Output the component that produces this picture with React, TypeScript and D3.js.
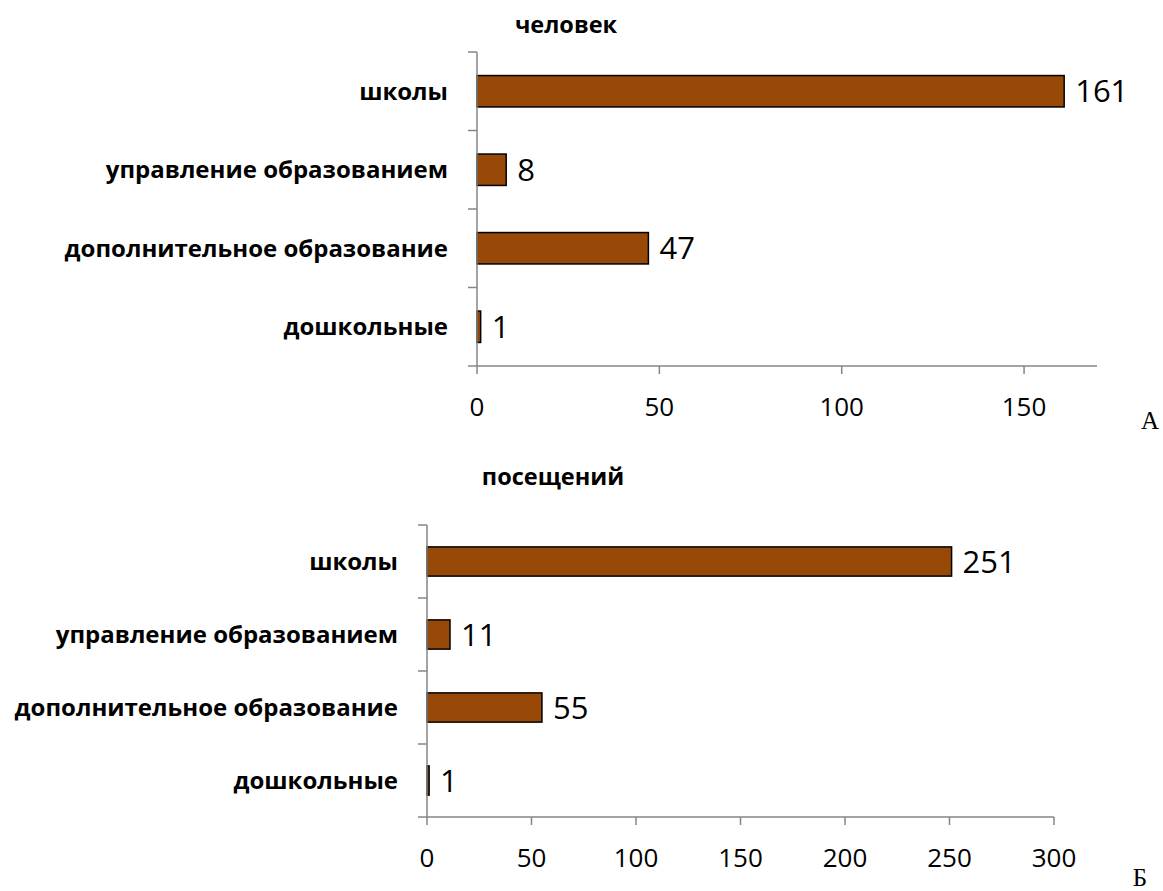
import React from "react";
import * as d3 from "d3";

const categories = ["школы", "управление образованием", "дополнительное образование", "дошкольные"];
const peopleValues = [161, 8, 47, 1];
const visitValues = [251, 11, 55, 1];
const peopleTicks = [0, 50, 100, 150];
const visitTicks = [0, 50, 100, 150, 200, 250, 300];

const BAR = "#984807";
const AXIS = "#868686";
const FONT = "'Open Sans', sans-serif";

type PanelProps = {
  title: string;
  values: number[];
  ticks: number[];
  max: number;
  x0: number;
  x1: number;
  y0: number;
  y1: number;
  titleX: number;
  titleY: number;
  letter: string;
  letterX: number;
  letterY: number;
};

function Panel(p: PanelProps) {
  const x = d3.scaleLinear().domain([0, p.max]).range([p.x0, p.x1]);
  const y = d3.scaleBand<string>().domain(categories).range([p.y0, p.y1]).paddingInner(0.6).paddingOuter(0.3);
  const step = (p.y1 - p.y0) / categories.length;
  const bounds = d3.range(categories.length + 1).map((i) => p.y0 + i * step);
  return (
    <g>
      <text x={p.titleX} y={p.titleY} textAnchor="middle" fontFamily={FONT} fontWeight="bold" fontSize={23.5} fill="#000">
        {p.title}
      </text>
      {categories.map((c, i) => (
        <g key={c}>
          <rect
            x={x(0)}
            y={y(c)!}
            width={x(p.values[i]) - x(0)}
            height={y.bandwidth()}
            fill={BAR}
            stroke="#000"
            strokeWidth={1.5}
          />
          <text
            x={x(p.values[i]) + 11}
            y={y(c)! + y.bandwidth() / 2}
            dy="0.36em"
            fontFamily={FONT}
            fontSize={31}
            fill="#000"
          >
            {p.values[i]}
          </text>
          <text
            x={p.x0 - 29}
            y={p.y0 + step * (i + 0.5)}
            dy="0.36em"
            textAnchor="end"
            fontFamily={FONT}
            fontWeight="bold"
            fontSize={24}
            fill="#000"
          >
            {c}
          </text>
        </g>
      ))}
      <line x1={p.x0} x2={p.x0} y1={p.y0} y2={p.y1} stroke={AXIS} strokeWidth={1.5} />
      {bounds.map((b, i) => (
        <line key={i} x1={p.x0 - 9} x2={p.x0} y1={b} y2={b} stroke={AXIS} strokeWidth={1.5} />
      ))}
      <line x1={p.x0} x2={p.x1} y1={p.y1} y2={p.y1} stroke={AXIS} strokeWidth={1.5} />
      {p.ticks.map((t) => (
        <g key={t}>
          <line x1={x(t)} x2={x(t)} y1={p.y1} y2={p.y1 + 8} stroke={AXIS} strokeWidth={1.5} />
          <text x={x(t)} y={p.y1 + 50} textAnchor="middle" fontFamily={FONT} fontSize={26} fill="#000">
            {t}
          </text>
        </g>
      ))}
      <text x={p.letterX} y={p.letterY} textAnchor="middle" fontFamily="'Liberation Serif', serif" fontSize={25} fill="#000">
        {p.letter}
      </text>
    </g>
  );
}

export default function App() {
  return (
    <svg width={1163} height={891} style={{ position: "absolute", left: 0, top: 0, background: "#fff" }}>
      <rect width={1163} height={891} fill="#fff" />
      <Panel
        title="человек"
        values={peopleValues}
        ticks={peopleTicks}
        max={170}
        x0={477}
        x1={1097}
        y0={52}
        y1={366}
        titleX={566}
        titleY={33}
        letter="А"
        letterX={1150}
        letterY={429}
      />
      <Panel
        title="посещений"
        values={visitValues}
        ticks={visitTicks}
        max={300}
        x0={427}
        x1={1054}
        y0={525}
        y1={817}
        titleX={553}
        titleY={485}
        letter="Б"
        letterX={1140}
        letterY={886}
      />
    </svg>
  );
}
